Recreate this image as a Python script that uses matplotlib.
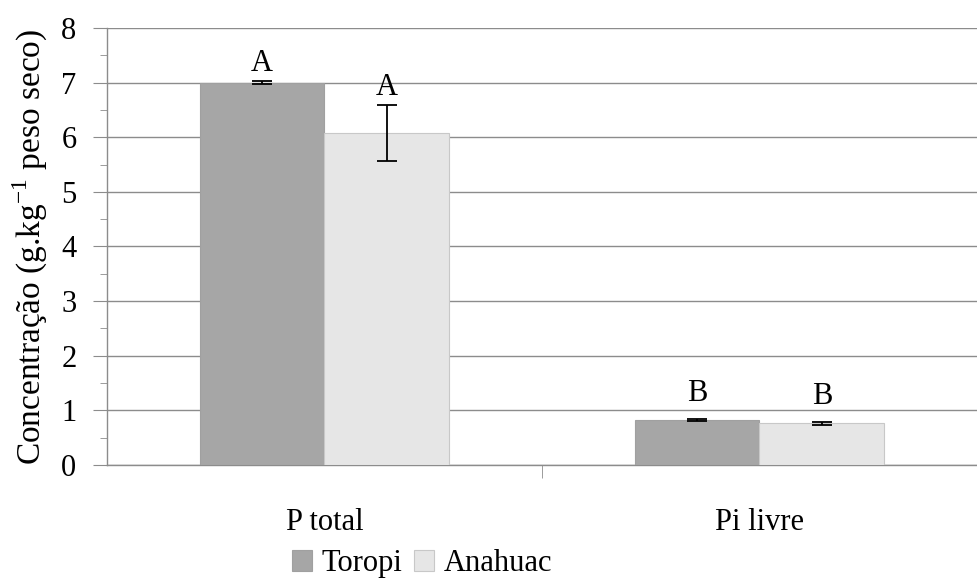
import matplotlib
matplotlib.use("Agg")
import matplotlib.pyplot as plt
from matplotlib.ticker import MultipleLocator, FixedLocator
import numpy as np

categories = ["P total", "Pi livre"]
series_names = ["Toropi", "Anahuac"]
toropi = [7.00, 0.83]
toropi_err = [0.03, 0.02]
anahuac = [6.08, 0.76]
anahuac_err = [0.51, 0.02]
toropi_letters = ["A", "B"]
anahuac_letters = ["A", "B"]

plt.rcParams["font.family"] = ["Liberation Serif", "DejaVu Serif"]
plt.rcParams["mathtext.fontset"] = "custom"
plt.rcParams["mathtext.rm"] = "Liberation Serif"

fig = plt.figure(figsize=(9.77, 5.81), dpi=100)
ax = fig.add_axes([0.1095, 0.1997, 0.8905, 0.7521])

x = np.arange(len(categories))
w = 0.287
c_tor = "#a6a6a6"
c_ana = "#e6e6e6"
fs = 22

ax.bar(x - w / 2, toropi, w, color=c_tor, edgecolor="#a0a0a0", linewidth=0.8,
       label=series_names[0], zorder=3)
ax.bar(x + w / 2, anahuac, w, color=c_ana, edgecolor="#c8c8c8", linewidth=0.8,
       label=series_names[1], zorder=3)
ax.errorbar(x - w / 2, toropi, yerr=toropi_err, fmt="none", ecolor="black",
            elinewidth=1.3, capsize=7, capthick=1.3, zorder=4)
ax.errorbar(x + w / 2, anahuac, yerr=anahuac_err, fmt="none", ecolor="black",
            elinewidth=1.3, capsize=7, capthick=1.3, zorder=4)

# letters sit a little higher over the short bars
letter_gap = [0.05, 0.20]
for xi, v, e, t, g in zip(x - w / 2, toropi, toropi_err, toropi_letters, letter_gap):
    ax.text(xi, v + e + g, t, ha="center", va="bottom", fontsize=fs)
for xi, v, e, t, g in zip(x + w / 2, anahuac, anahuac_err, anahuac_letters, letter_gap):
    ax.text(xi, v + e + g, t, ha="center", va="bottom", fontsize=fs)

ax.set_xlim(-0.5, 1.5)
ax.set_ylim(0, 8)
ax.yaxis.set_major_locator(MultipleLocator(1))
ax.yaxis.set_minor_locator(MultipleLocator(0.5))
ax.grid(axis="y", which="major", color="#8c8c8c", linewidth=1.0, zorder=0)

ax.set_xticks(x)
ax.set_xticklabels(categories, fontsize=fs)
ax.tick_params(axis="x", length=0, pad=31)
ax.xaxis.set_minor_locator(FixedLocator([0.5]))
ax.tick_params(axis="x", which="minor", length=9, color="#8c8c8c", direction="out")
ax.tick_params(axis="y", which="major", length=10, color="#8c8c8c", labelsize=fs, pad=12)
ax.tick_params(axis="y", which="minor", length=5, color="#8c8c8c")

for s in ["top", "right"]:
    ax.spines[s].set_visible(False)
for s in ["left", "bottom"]:
    ax.spines[s].set_color("#8c8c8c")
    ax.spines[s].set_linewidth(1.0)

ax.set_ylabel("Concentração (g.kg$^{-1}$ peso seco)", fontsize=24, labelpad=8)

fig.legend(loc="center", bbox_to_anchor=(0.432, 0.03), ncol=2, frameon=False,
           fontsize=fs, handlelength=0.65, handleheight=0.65, handletextpad=0.3,
           columnspacing=0.4, borderpad=0)

fig.savefig("out.png", dpi=100)
